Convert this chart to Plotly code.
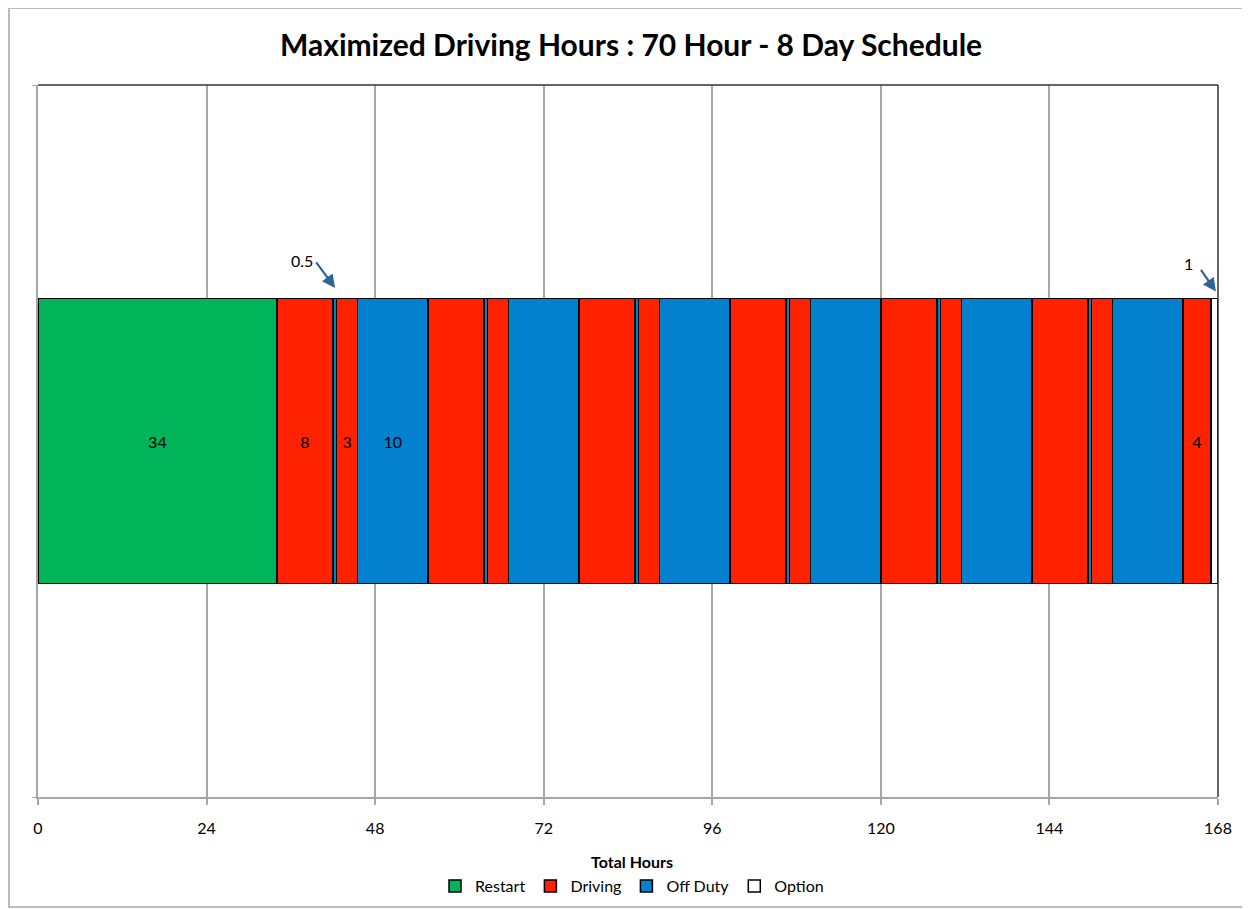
import plotly.graph_objects as go

# ---- data ----
segment_hours = [34, 8, 0.5, 3, 10,
                 8, 0.5, 3, 10,
                 8, 0.5, 3, 10,
                 8, 0.5, 3, 10,
                 8, 0.5, 3, 10,
                 8, 0.5, 3, 10,
                 4, 1]
segment_types = ["Restart", "Driving", "Off Duty", "Driving", "Off Duty",
                 "Driving", "Off Duty", "Driving", "Off Duty",
                 "Driving", "Off Duty", "Driving", "Off Duty",
                 "Driving", "Off Duty", "Driving", "Off Duty",
                 "Driving", "Off Duty", "Driving", "Off Duty",
                 "Driving", "Off Duty", "Driving", "Off Duty",
                 "Driving", "Option"]
segment_labels = ["34", "8", "", "3", "10",
                  "", "", "", "",
                  "", "", "", "",
                  "", "", "", "",
                  "", "", "", "",
                  "", "", "", "",
                  "4", ""]
tick_values = [0, 24, 48, 72, 96, 120, 144, 168]
category = "Schedule"

type_colors = {"Restart": "#00B45A", "Driving": "#FF2200",
               "Off Duty": "#0481CE", "Option": "#FFFFFF"}

FONT = "Lato, 'Open Sans', sans-serif"

# figure is placed at (8, 8) by the page's body margin
W, H = 1242, 901
PL, PR, PT, PB = 30, 1210, 77, 789   # plot area in figure pixels
PW, PH = PR - PL, PB - PT


def px_x(p):  # figure pixel -> paper x
    return (p - PL) / PW


def px_y(p):  # figure pixel -> paper y
    return (PB - p) / PH


fig = go.Figure()
seen = set()
for hrs, typ, lab in zip(segment_hours, segment_types, segment_labels):
    first = typ not in seen
    seen.add(typ)
    fig.add_trace(go.Bar(
        x=[hrs], y=[category], orientation="h", name=typ,
        legendgroup=typ, showlegend=first,
        marker=dict(color=type_colors[typ], line=dict(color="#000000", width=1.5)),
        text=[lab], textposition="inside", insidetextanchor="middle",
        textangle=0, constraintext="none",
        textfont=dict(family=FONT, size=16, color="#000000"),
        width=0.4, hoverinfo="x+name",
    ))

fig.update_layout(
    width=W, height=H,
    barmode="stack",
    paper_bgcolor="white", plot_bgcolor="white",
    margin=dict(l=PL, r=W - PR, t=PT, b=H - PB, autoexpand=False),
    title=dict(text="<b>Maximized Driving Hours : 70 Hour - 8 Day Schedule</b>",
               x=px_x(622), xanchor="center", y=1 - 37 / H, yanchor="middle",
               font=dict(family=FONT, size=30, color="#000000")),
    xaxis=dict(range=[0, 168], tickvals=tick_values, showgrid=True,
               gridcolor="#A6A6A6", gridwidth=1.5, showline=True,
               linecolor="#A6A6A6", linewidth=1.5, ticks="outside", ticklen=6,
               tickcolor="#A6A6A6", tickwidth=1.5, zeroline=False,
               ticklabelstandoff=10, automargin=False,
               tickfont=dict(family=FONT, size=16, color="#000000")),
    yaxis=dict(range=[-0.5, 0.5], showticklabels=False, showgrid=False,
               showline=True, linecolor="#A6A6A6", linewidth=1.5,
               zeroline=False, ticks="outside", tickvals=[-0.5, 0.5], ticklen=4,
               tickcolor="#A6A6A6", automargin=False),
    legend=dict(orientation="h", x=px_x(624), xanchor="center",
                y=px_y(878), yanchor="middle",
                font=dict(family=FONT, size=16, color="#000000"),
                itemwidth=30, tracegroupgap=0, bgcolor="rgba(0,0,0,0)"),
    showlegend=True,
)

# plot area top and right border (dark)
fig.add_shape(type="line", xref="paper", yref="paper", x0=0, x1=1, y0=1, y1=1,
              line=dict(color="#333333", width=1.5))
fig.add_shape(type="line", xref="paper", yref="paper", x0=1, x1=1, y0=0, y1=1,
              line=dict(color="#333333", width=1.5))
# outer chart border
fig.add_shape(type="rect", xref="paper", yref="paper",
              x0=px_x(1), x1=px_x(1240),
              y0=px_y(899), y1=px_y(0),
              line=dict(color="#BBBBBB", width=2), fillcolor="rgba(0,0,0,0)")

# axis title
fig.add_annotation(text="<b>Total Hours</b>", xref="paper", yref="paper",
                   x=px_x(624), y=px_y(853), xanchor="center", yanchor="middle",
                   showarrow=False, font=dict(family=FONT, size=16, color="#000000"))

# arrows and their labels
arrow_color = "#2F6496"
fig.add_annotation(x=42.3, y=0.215, xref="x", yref="y", text="",
                   showarrow=True, arrowhead=2, arrowsize=1.2, arrowwidth=2.2,
                   arrowcolor=arrow_color, axref="pixel", ayref="pixel",
                   ax=-20, ay=-27)
fig.add_annotation(x=(302 - 38) / 1180 * 168, y=(441 - 260) / 712, xref="x", yref="y",
                   text="0.5", showarrow=False,
                   font=dict(family=FONT, size=16, color="#000000"))
fig.add_annotation(x=167.7, y=0.21, xref="x", yref="y", text="",
                   showarrow=True, arrowhead=2, arrowsize=1.2, arrowwidth=2.2,
                   arrowcolor=arrow_color, axref="pixel", ayref="pixel",
                   ax=-16, ay=-23)
fig.add_annotation(x=(1188 - 38) / 1180 * 168, y=(441 - 263) / 712, xref="x", yref="y",
                   text="1", showarrow=False,
                   font=dict(family=FONT, size=16, color="#000000"))

fig.write_html("out.html")
